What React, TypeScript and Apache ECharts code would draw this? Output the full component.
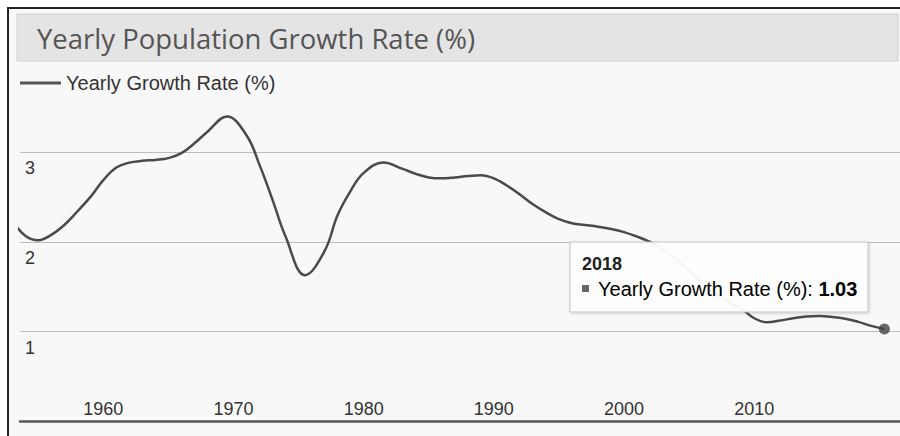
import React, { useEffect, useRef } from "react";
import * as echarts from "echarts";

const chartTitle = "Yearly Population Growth Rate (%)";
const seriesName = "Yearly Growth Rate (%)";

const years = [
  1953, 1954, 1955, 1956, 1957, 1958, 1959, 1960, 1961, 1962, 1963, 1964,
  1965, 1966, 1967, 1968, 1969.5, 1971, 1972, 1973, 1974, 1975.5,
  1977, 1978, 1979, 1980, 1981.5, 1983, 1984, 1985, 1986, 1987, 1988,
  1989, 1990, 1991, 1992, 1993, 1994, 1995, 1996, 1997, 1998, 1999, 2000,
  2001, 2002, 2003, 2004, 2005, 2006, 2007, 2008, 2009, 2010, 2011, 2012,
  2013, 2014, 2015, 2016, 2017, 2018, 2019, 2020,
];

const growthRates = [
  2.24, 2.07, 2.02, 2.08, 2.19, 2.34, 2.5, 2.69, 2.83, 2.885, 2.905, 2.915,
  2.935, 2.99, 3.1, 3.23, 3.4, 3.19, 2.86, 2.47, 2.06, 1.63,
  1.9, 2.3, 2.57, 2.77, 2.885, 2.815, 2.76, 2.72, 2.71, 2.72, 2.735,
  2.745, 2.71, 2.63, 2.53, 2.42, 2.33, 2.255, 2.21, 2.19, 2.17, 2.145, 2.11,
  2.06, 2.0, 1.92, 1.81, 1.68, 1.55, 1.43, 1.33, 1.26, 1.15, 1.105, 1.125,
  1.15, 1.17, 1.175, 1.165, 1.145, 1.11, 1.065, 1.03,
];

const xTickYears = [1960, 1970, 1980, 1990, 2000, 2010];
const yTickValues = [1, 2, 3];

const tooltipYear = "2018";
const tooltipValue = 1.03;

const FONT = "'Liberation Sans', Arial, sans-serif";

export default function App() {
  const ref = useRef<HTMLDivElement>(null);

  useEffect(() => {
    if (!ref.current) return;
    const chart = echarts.init(ref.current, undefined, { renderer: "svg" });
    const lineData = years.map((y, i) => [y, growthRates[i]]);
    const last = lineData[lineData.length - 1];

    chart.setOption({
      animation: false,
      backgroundColor: "#ffffff",
      textStyle: { fontFamily: FONT },
      grid: { left: 20, right: 0, top: 62.6, bottom: 14.6, containLabel: false },
      legend: {
        data: [seriesName],
        left: 20,
        top: 73,
        padding: 0,
        icon: "rect",
        itemWidth: 41,
        itemHeight: 3,
        itemGap: 10,
        textStyle: { fontSize: 20, color: "#333", fontFamily: FONT, lineHeight: 20 },
        selectedMode: false,
      },
      xAxis: {
        type: "value",
        min: 1953.6,
        max: 2021.2,
        axisLine: { show: true, onZero: false, lineStyle: { color: "#555", width: 2.5 } },
        axisTick: { show: false },
        splitLine: { show: false },
        axisLabel: {
          inside: true,
          margin: 3,
          customValues: xTickYears,
          fontSize: 18,
          color: "#333",
          fontFamily: FONT,
          formatter: (v: number) => String(v),
        },
      },
      yAxis: {
        type: "value",
        min: 0,
        max: 4,
        interval: 1,
        axisLine: { show: false },
        axisTick: { show: false },
        splitLine: {
          show: true,
          lineStyle: {
            color: ["rgba(0,0,0,0)", "#bdbdbd", "#bdbdbd", "#bdbdbd", "rgba(0,0,0,0)"],
            width: 1,
          },
        },
        axisLabel: {
          inside: true,
          margin: 5,
          align: "left",
          verticalAlign: "top",
          padding: [7, 0, 0, 0],
          fontSize: 18,
          color: "#333",
          fontFamily: FONT,
          formatter: (v: number) => (yTickValues.indexOf(v) >= 0 ? String(v) : ""),
        },
      },
      series: [
        {
          name: seriesName,
          type: "line",
          data: lineData,
          smooth: 0.4,
          symbol: "none",
          color: "#555",
          lineStyle: { color: "#4a4a4a", width: 2.5 },
          z: 3,
        },
        {
          name: "hovered",
          type: "scatter",
          data: [last],
          symbol: "circle",
          symbolSize: 11,
          itemStyle: { color: "#444" },
          z: 4,
        },
      ],
      graphic: [
        {
          type: "rect",
          z: -100,
          silent: true,
          shape: { x: 8, y: 8, width: 900, height: 440 },
          style: { fill: "#f8f8f8", stroke: "#222", lineWidth: 2 },
        },
        {
          type: "rect",
          z: -90,
          silent: true,
          shape: { x: 17, y: 14, width: 881, height: 47 },
          style: { fill: "#e4e4e4", stroke: "#d0d0d0", lineWidth: 1 },
        },
        {
          type: "text",
          z: -80,
          silent: true,
          x: 37,
          y: 38,
          style: {
            text: chartTitle,
            fill: "#555",
            font: "27.5px 'Open Sans', sans-serif",
            verticalAlign: "middle",
            align: "left",
          },
        },
        {
          type: "group",
          z: 100,
          silent: true,
          children: [
            {
              type: "rect",
              z: 100,
              shape: { x: 570, y: 242, width: 298, height: 70 },
              style: {
                fill: "rgba(255,255,255,0.94)",
                stroke: "#c4c4c4",
                lineWidth: 1,
                shadowBlur: 3,
                shadowColor: "rgba(0,0,0,0.18)",
                shadowOffsetX: 1,
                shadowOffsetY: 1,
              },
            },
            {
              type: "text",
              z: 101,
              x: 582,
              y: 264,
              style: {
                text: tooltipYear,
                fill: "#222",
                font: `bold 18px ${FONT}`,
                verticalAlign: "middle",
              },
            },
            {
              type: "rect",
              z: 101,
              shape: { x: 582, y: 285, width: 7, height: 7 },
              style: { fill: "#666" },
            },
            {
              type: "text",
              z: 101,
              x: 598,
              y: 289,
              style: {
                text: `{n|${seriesName}: }{b|${tooltipValue.toFixed(2)}}`,
                verticalAlign: "middle",
                rich: {
                  n: { fontSize: 20, fontFamily: FONT, color: "#333" },
                  b: { fontSize: 20, fontFamily: FONT, color: "#222", fontWeight: "bold" },
                },
              },
            },
          ],
        },
      ],
    });

    return () => chart.dispose();
  }, []);

  return (
    <div
      ref={ref}
      style={{ position: "absolute", left: 0, top: 0, width: 900, height: 436 }}
    />
  );
}
